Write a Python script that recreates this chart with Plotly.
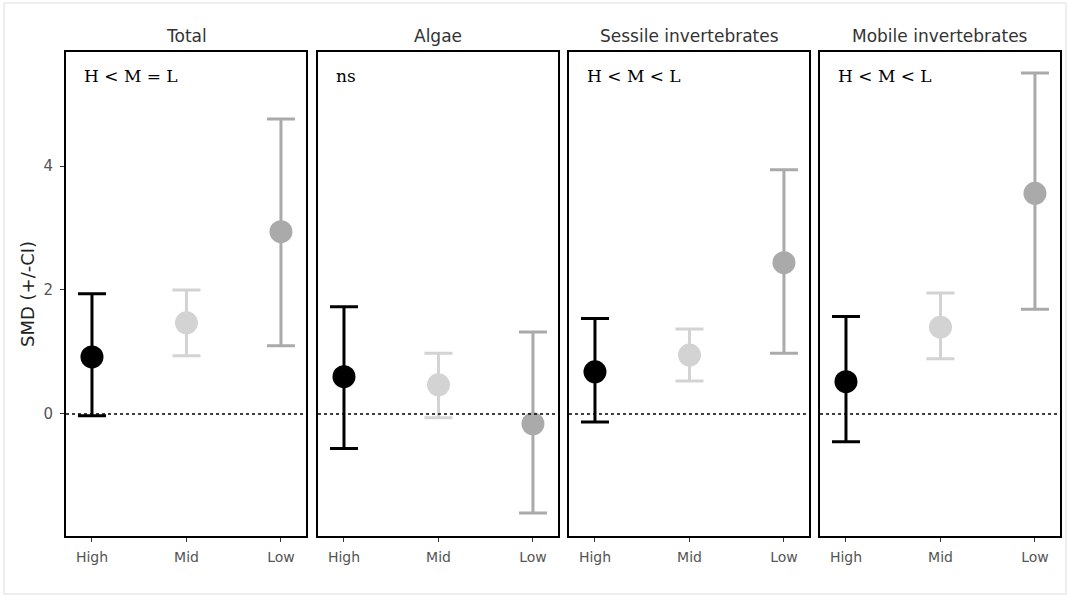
import plotly.graph_objects as go

W, H = 1068, 597

panels = ["Total", "Algae", "Sessile invertebrates", "Mobile invertebrates"]
annots = ["H < M = L", "ns", "H < M < L", "H < M < L"]
levels = ["High", "Mid", "Low"]
colors = ["#000000", "#d3d3d3", "#aaaaaa"]

# mean, lower CI, upper CI per panel (High, Mid, Low)
mean_total = [0.92, 1.47, 2.94]
lo_total = [-0.03, 0.94, 1.10]
hi_total = [1.94, 2.00, 4.76]

mean_algae = [0.60, 0.47, -0.16]
lo_algae = [-0.56, -0.06, -1.60]
hi_algae = [1.73, 0.98, 1.32]

mean_sessile = [0.68, 0.95, 2.44]
lo_sessile = [-0.13, 0.53, 0.98]
hi_sessile = [1.54, 1.37, 3.94]

mean_mobile = [0.52, 1.40, 3.56]
lo_mobile = [-0.45, 0.89, 1.69]
hi_mobile = [1.57, 1.95, 5.50]

means = [mean_total, mean_algae, mean_sessile, mean_mobile]
los = [lo_total, lo_algae, lo_sessile, lo_mobile]
his = [hi_total, hi_algae, hi_sessile, hi_mobile]

y_ticks = [0, 2, 4]

SANS = "DejaVu Sans, Verdana, sans-serif"
SERIF = "DejaVu Serif, Times New Roman, serif"

fig = go.Figure()

panel_px = [(66, 306), (318, 558), (569, 809), (820, 1060)]
top_px, bot_px = 52, 536
ydom = [1 - bot_px / H, 1 - top_px / H]

for i, name in enumerate(panels):
    ax = "" if i == 0 else str(i + 1)
    xa, ya = "x" + ax, "y" + ax
    for j, lev in enumerate(levels):
        m = means[i][j]
        fig.add_trace(go.Scatter(
            x=[j], y=[m], mode="markers", xaxis=xa, yaxis=ya,
            marker=dict(color=colors[j], size=23, line=dict(width=0)),
            error_y=dict(type="data", symmetric=False,
                         array=[his[i][j] - m], arrayminus=[m - los[i][j]],
                         color=colors[j], thickness=3, width=14),
            showlegend=False, hoverinfo="skip"))
    x0, x1 = panel_px[i]
    xdom = [x0 / W, x1 / W]
    fig.update_layout(**{
        "xaxis" + ax: dict(domain=xdom, range=[-0.275, 2.265], anchor=ya,
                           tickmode="array", tickvals=[0, 1, 2], ticktext=levels,
                           showgrid=False, zeroline=False, showline=True, mirror=True,
                           linecolor="black", linewidth=2, ticks="outside", ticklen=4,
                           tickcolor="#333333", tickwidth=1, ticklabelstandoff=3,
                           tickfont=dict(family=SANS, size=14, color="#555555")),
        "yaxis" + ax: dict(domain=ydom, range=[-1.97, 5.84], anchor=xa,
                           tickvals=y_ticks if i == 0 else [],
                           showticklabels=(i == 0),
                           showgrid=False, zeroline=False, showline=True, mirror=True,
                           linecolor="black", linewidth=2,
                           ticks="outside" if i == 0 else "", ticklen=4,
                           tickcolor="#333333", tickwidth=1, ticklabelstandoff=4,
                           tickfont=dict(family=SANS, size=15, color="#555555")),
    })
    # zero reference line
    fig.add_shape(type="line", xref=xa + " domain", yref=ya, x0=0, x1=1, y0=0, y1=0,
                  line=dict(color="black", width=1.5, dash="dot"), layer="above")
    # strip label
    fig.add_annotation(text=name, xref="paper", yref="paper",
                       x=(x0 + x1) / 2 / W, y=1 - 36 / H, showarrow=False,
                       xanchor="center", yanchor="middle",
                       font=dict(family=SANS, size=17, color="#333333"))
    # significance annotation
    fig.add_annotation(text=annots[i], xref="paper", yref="paper",
                       x=(x0 + 16) / W, y=1 - 76 / H, showarrow=False,
                       xanchor="left", yanchor="middle",
                       font=dict(family=SERIF, size=17, color="black"))

# y-axis title
fig.add_annotation(text="SMD (+/-CI)", xref="paper", yref="paper",
                   x=27 / W, y=1 - 294 / H, showarrow=False, textangle=-90,
                   xanchor="center", yanchor="middle",
                   font=dict(family=SANS, size=18, color="#222222"))

# faint outer frame
fig.add_shape(type="rect", xref="paper", yref="paper",
              x0=4 / W, x1=1066 / W, y0=1 - 594 / H, y1=1 - 3 / H,
              line=dict(color="#dddddd", width=1), layer="below")

fig.update_layout(width=W, height=H, margin=dict(l=0, r=0, t=0, b=0),
                  paper_bgcolor="white", plot_bgcolor="white")

fig.write_html("out.html")
